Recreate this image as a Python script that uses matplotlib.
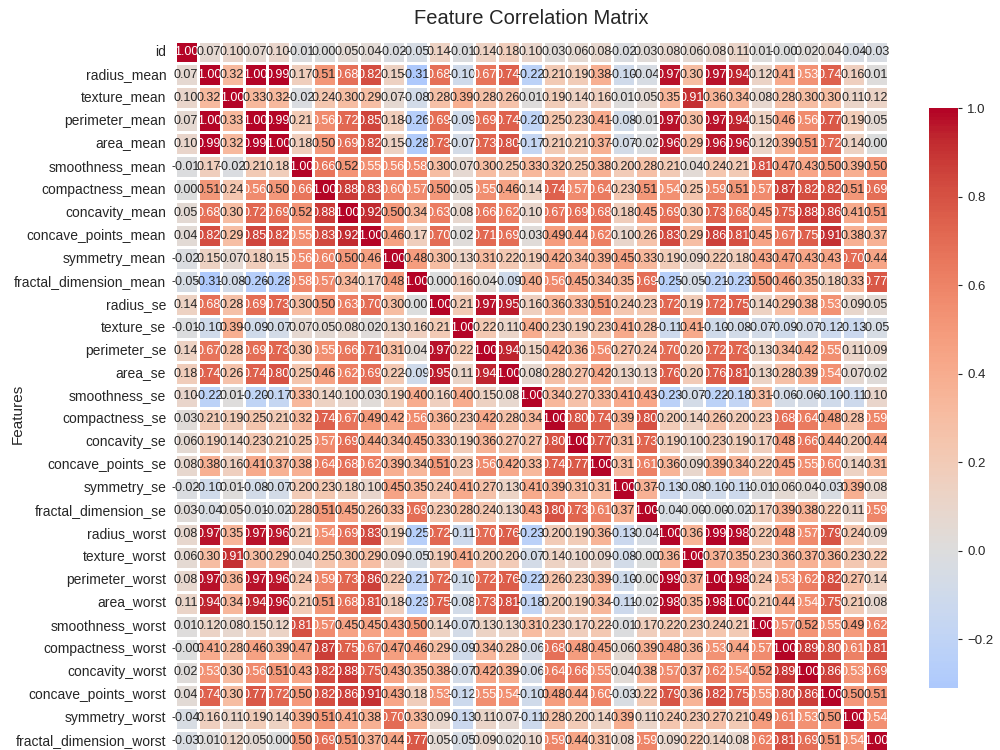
import matplotlib
matplotlib.use("Agg")
import matplotlib.pyplot as plt
import seaborn as sns
import numpy as np

features = ["id", "radius_mean", "texture_mean", "perimeter_mean", "area_mean",
            "smoothness_mean", "compactness_mean", "concavity_mean",
            "concave_points_mean", "symmetry_mean", "fractal_dimension_mean",
            "radius_se", "texture_se", "perimeter_se", "area_se", "smoothness_se",
            "compactness_se", "concavity_se", "concave_points_se", "symmetry_se",
            "fractal_dimension_se", "radius_worst", "texture_worst",
            "perimeter_worst", "area_worst", "smoothness_worst",
            "compactness_worst", "concavity_worst", "concave_points_worst",
            "symmetry_worst", "fractal_dimension_worst"]

# upper triangle of the correlation matrix, row i starts at column i
upper = [
    [1.00, 0.07, 0.10, 0.07, 0.10, -0.01, 0.00, 0.05, 0.04, -0.02, -0.05, 0.14, -0.01, 0.14, 0.18, 0.10, 0.03, 0.06, 0.08, -0.02, 0.03, 0.08, 0.06, 0.08, 0.11, 0.01, -0.00, 0.02, 0.04, -0.04, -0.03],
    [1.00, 0.32, 1.00, 0.99, 0.17, 0.51, 0.68, 0.82, 0.15, -0.31, 0.68, -0.10, 0.67, 0.74, -0.22, 0.21, 0.19, 0.38, -0.10, -0.04, 0.97, 0.30, 0.97, 0.94, 0.12, 0.41, 0.53, 0.74, 0.16, 0.01],
    [1.00, 0.33, 0.32, -0.02, 0.24, 0.30, 0.29, 0.07, -0.08, 0.28, 0.39, 0.28, 0.26, 0.01, 0.19, 0.14, 0.16, 0.01, 0.05, 0.35, 0.91, 0.36, 0.34, 0.08, 0.28, 0.30, 0.30, 0.11, 0.12],
    [1.00, 0.99, 0.21, 0.56, 0.72, 0.85, 0.18, -0.26, 0.69, -0.09, 0.69, 0.74, -0.20, 0.25, 0.23, 0.41, -0.08, -0.01, 0.97, 0.30, 0.97, 0.94, 0.15, 0.46, 0.56, 0.77, 0.19, 0.05],
    [1.00, 0.18, 0.50, 0.69, 0.82, 0.15, -0.28, 0.73, -0.07, 0.73, 0.80, -0.17, 0.21, 0.21, 0.37, -0.07, -0.02, 0.96, 0.29, 0.96, 0.96, 0.12, 0.39, 0.51, 0.72, 0.14, 0.00],
    [1.00, 0.66, 0.52, 0.55, 0.56, 0.58, 0.30, 0.07, 0.30, 0.25, 0.33, 0.32, 0.25, 0.38, 0.20, 0.28, 0.21, 0.04, 0.24, 0.21, 0.81, 0.47, 0.43, 0.50, 0.39, 0.50],
    [1.00, 0.88, 0.83, 0.60, 0.57, 0.50, 0.05, 0.55, 0.46, 0.14, 0.74, 0.57, 0.64, 0.23, 0.51, 0.54, 0.25, 0.59, 0.51, 0.57, 0.87, 0.82, 0.82, 0.51, 0.69],
    [1.00, 0.92, 0.50, 0.34, 0.63, 0.08, 0.66, 0.62, 0.10, 0.67, 0.69, 0.68, 0.18, 0.45, 0.69, 0.30, 0.73, 0.68, 0.45, 0.75, 0.88, 0.86, 0.41, 0.51],
    [1.00, 0.46, 0.17, 0.70, 0.02, 0.71, 0.69, 0.03, 0.49, 0.44, 0.62, 0.10, 0.26, 0.83, 0.29, 0.86, 0.81, 0.45, 0.67, 0.75, 0.91, 0.38, 0.37],
    [1.00, 0.48, 0.30, 0.13, 0.31, 0.22, 0.19, 0.42, 0.34, 0.39, 0.45, 0.33, 0.19, 0.09, 0.22, 0.18, 0.43, 0.47, 0.43, 0.43, 0.70, 0.44],
    [1.00, 0.00, 0.16, 0.04, -0.09, 0.40, 0.56, 0.45, 0.34, 0.35, 0.69, -0.25, -0.05, -0.21, -0.23, 0.50, 0.46, 0.35, 0.18, 0.33, 0.77],
    [1.00, 0.21, 0.97, 0.95, 0.16, 0.36, 0.33, 0.51, 0.24, 0.23, 0.72, 0.19, 0.72, 0.75, 0.14, 0.29, 0.38, 0.53, 0.09, 0.05],
    [1.00, 0.22, 0.11, 0.40, 0.23, 0.19, 0.23, 0.41, 0.28, -0.11, 0.41, -0.10, -0.08, -0.07, -0.09, -0.07, -0.12, -0.13, -0.05],
    [1.00, 0.94, 0.15, 0.42, 0.36, 0.56, 0.27, 0.24, 0.70, 0.20, 0.72, 0.73, 0.13, 0.34, 0.42, 0.55, 0.11, 0.09],
    [1.00, 0.08, 0.28, 0.27, 0.42, 0.13, 0.13, 0.76, 0.20, 0.76, 0.81, 0.13, 0.28, 0.39, 0.54, 0.07, 0.02],
    [1.00, 0.34, 0.27, 0.33, 0.41, 0.43, -0.23, -0.07, -0.22, -0.18, 0.31, -0.06, -0.06, -0.10, -0.11, 0.10],
    [1.00, 0.80, 0.74, 0.39, 0.80, 0.20, 0.14, 0.26, 0.20, 0.23, 0.68, 0.64, 0.48, 0.28, 0.59],
    [1.00, 0.77, 0.31, 0.73, 0.19, 0.10, 0.23, 0.19, 0.17, 0.48, 0.66, 0.44, 0.20, 0.44],
    [1.00, 0.31, 0.61, 0.36, 0.09, 0.39, 0.34, 0.22, 0.45, 0.55, 0.60, 0.14, 0.31],
    [1.00, 0.37, -0.13, -0.08, -0.10, -0.11, -0.01, 0.06, 0.04, -0.03, 0.39, 0.08],
    [1.00, -0.04, -0.00, -0.00, -0.02, 0.17, 0.39, 0.38, 0.22, 0.11, 0.59],
    [1.00, 0.36, 0.99, 0.98, 0.22, 0.48, 0.57, 0.79, 0.24, 0.09],
    [1.00, 0.37, 0.35, 0.23, 0.36, 0.37, 0.36, 0.23, 0.22],
    [1.00, 0.98, 0.24, 0.53, 0.62, 0.82, 0.27, 0.14],
    [1.00, 0.21, 0.44, 0.54, 0.75, 0.21, 0.08],
    [1.00, 0.57, 0.52, 0.55, 0.49, 0.62],
    [1.00, 0.89, 0.80, 0.61, 0.81],
    [1.00, 0.86, 0.53, 0.69],
    [1.00, 0.50, 0.51],
    [1.00, 0.54],
    [1.00],
]

n = len(features)
corr = np.zeros((n, n))
for i, row in enumerate(upper):
    corr[i, i:] = row
    corr[i:, i] = row

sns.set_style("white")
plt.rcParams['font.family'] = ['Liberation Sans', 'DejaVu Sans']

fig = plt.figure(figsize=(10, 7.5), dpi=100)
ax = fig.add_axes([0.1745, -0.0033, 0.713, 0.9493])
cax = fig.add_axes([0.929, 0.0827, 0.029, 0.773])

sns.heatmap(corr, ax=ax, cbar_ax=cax, cmap="coolwarm", center=0,
            annot=True, fmt=".2f", annot_kws={"size": 9},
            linewidths=2, linecolor="white",
            xticklabels=features, yticklabels=features)

ax.set_title("Feature Correlation Matrix", fontsize=14.5, color="#262626", pad=12)
ax.set_ylabel("Features", fontsize=11, color="#262626")
ax.yaxis.set_label_coords(-0.21, 0.476)
ax.tick_params(axis="y", labelsize=10, length=0, pad=6, colors="#262626")
ax.tick_params(axis="x", labelsize=10, length=0, rotation=90)
cax.tick_params(labelsize=9.5, length=3, colors="#262626")

plt.savefig("out.png", dpi=100)
